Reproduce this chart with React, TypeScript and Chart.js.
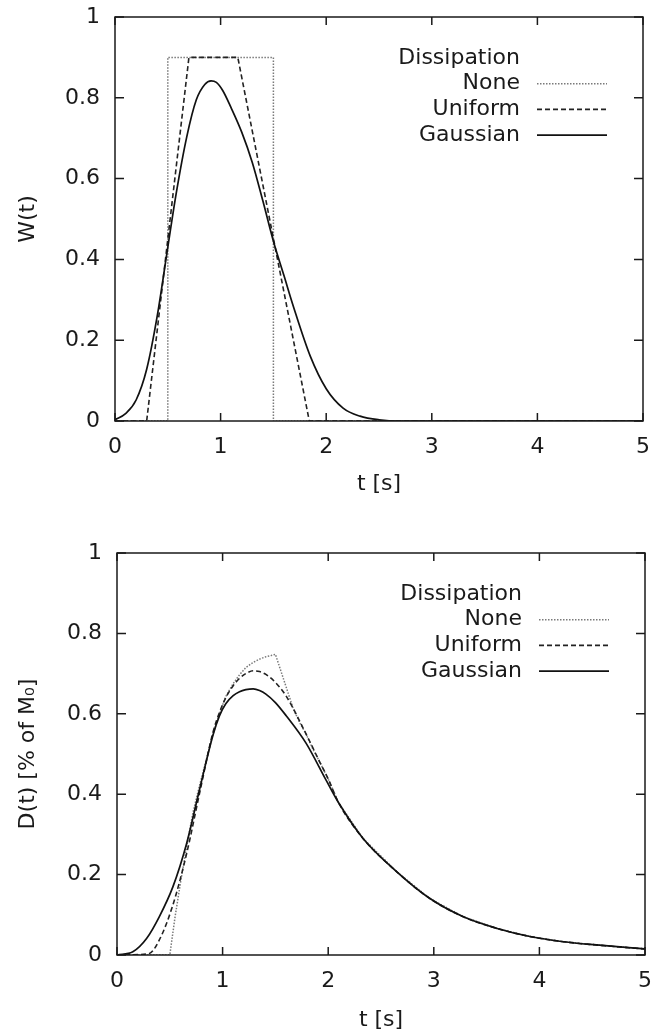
import React, { useEffect, useRef } from "react";
import { Chart, registerables } from "chart.js";

Chart.register(...registerables);

// ---------- shared axis / legend text ----------
const xTicks = [0, 1, 2, 3, 4, 5];
const yTicks = [0, 0.2, 0.4, 0.6, 0.8, 1];
const xTitle = "t [s]";
const topYTitle = "W(t)";
const bottomYTitle = "D(t) [% of M₀]";
const legendTitle = "Dissipation";
const seriesNames = ["None", "Uniform", "Gaussian"];

// ---------- top panel: W(t) ----------
const wNoneT = [0, 0.5, 0.5, 1.5, 1.5, 5];
const wNoneV = [0, 0, 0.9, 0.9, 0, 0];

const wUniformT = [0, 0.3, 0.7, 1.163, 1.84, 5];
const wUniformV = [0, 0, 0.9, 0.9, 0, 0];

const wGaussT = [0, 0.1, 0.2, 0.3, 0.4, 0.5, 0.58, 0.68, 0.77, 0.85, 0.91, 0.96, 1.02, 1.1, 1.2, 1.3, 1.4, 1.5, 1.6, 1.69, 1.85, 2.0, 2.16, 2.32, 2.5, 2.7, 3.0, 5.0];
const wGaussV = [0.003, 0.018, 0.052, 0.128, 0.26, 0.43, 0.564, 0.704, 0.795, 0.833, 0.842, 0.838, 0.818, 0.775, 0.715, 0.64, 0.545, 0.445, 0.36, 0.283, 0.16, 0.08, 0.032, 0.012, 0.003, 0, 0, 0];

// ---------- bottom panel: D(t) ----------
const dTailT = [2.1, 2.33, 2.65, 2.96, 3.28, 3.6, 3.91, 4.23, 4.54, 5.0];
const dTailV = [0.378, 0.29, 0.207, 0.141, 0.095, 0.066, 0.046, 0.033, 0.025, 0.015];

const dNoneT = [0, 0.5, 0.55, 0.6, 0.66, 0.72, 0.78, 0.85, 0.91, 0.97, 1.03, 1.1, 1.16, 1.22, 1.29, 1.35, 1.41, 1.46, 1.5, 1.55, 1.6, 1.67, 1.73, 1.79, 1.85, 1.92, 2.0];
const dNoneV = [0, 0, 0.095, 0.178, 0.27, 0.355, 0.42, 0.49, 0.55, 0.6, 0.643, 0.675, 0.697, 0.715, 0.728, 0.736, 0.742, 0.745, 0.748, 0.708, 0.668, 0.612, 0.578, 0.55, 0.515, 0.48, 0.438];

const dUniformT = [0, 0.3, 0.4, 0.53, 0.66, 0.78, 0.91, 0.97, 1.03, 1.1, 1.16, 1.22, 1.29, 1.35, 1.41, 1.5, 1.6, 1.79, 1.92, 2.0];
const dUniformV = [0, 0.003, 0.037, 0.125, 0.253, 0.4, 0.555, 0.603, 0.64, 0.67, 0.688, 0.7, 0.707, 0.705, 0.698, 0.678, 0.645, 0.55, 0.48, 0.438];

const dGaussT = [0, 0.15, 0.28, 0.4, 0.53, 0.66, 0.78, 0.91, 0.97, 1.03, 1.1, 1.16, 1.22, 1.29, 1.35, 1.41, 1.5, 1.6, 1.79, 1.98];
const dGaussV = [0, 0.008, 0.041, 0.095, 0.17, 0.278, 0.41, 0.548, 0.595, 0.625, 0.645, 0.655, 0.66, 0.662, 0.658, 0.649, 0.628, 0.596, 0.527, 0.435];

// ---------- styling ----------
const FONT = '"DejaVu Sans", "Liberation Sans", sans-serif';
const FONT_SIZE = 22;
const INK = "#1a1a1a";

const styles: Record<string, any> = {
  None: { borderColor: "#7a7a7a", borderWidth: 1.5, borderDash: [1.5, 1.5] },
  Uniform: { borderColor: "#222222", borderWidth: 1.6, borderDash: [5, 3] },
  Gaussian: { borderColor: "#111111", borderWidth: 1.7, borderDash: [] },
};

const toXY = (ts: number[], vs: number[]) => ts.map((t, i) => ({ x: t, y: vs[i] }));

const frameLegendPlugin = {
  id: "frameLegend",
  afterDatasetsDraw(chart: any) {
    const { ctx, chartArea: a, scales } = chart;
    ctx.save();
    ctx.strokeStyle = INK;
    ctx.lineWidth = 1.5;
    ctx.setLineDash([]);
    ctx.strokeRect(a.left, a.top, a.right - a.left, a.bottom - a.top);
    ctx.beginPath();
    for (const v of xTicks) {
      const px = scales.x.getPixelForValue(v);
      ctx.moveTo(px, a.bottom);
      ctx.lineTo(px, a.bottom - 8);
      ctx.moveTo(px, a.top);
      ctx.lineTo(px, a.top + 8);
    }
    for (const v of yTicks) {
      const py = scales.y.getPixelForValue(v);
      ctx.moveTo(a.left, py);
      ctx.lineTo(a.left + 9, py);
      ctx.moveTo(a.right, py);
      ctx.lineTo(a.right - 9, py);
    }
    ctx.stroke();

    // legend (gnuplot style: right-aligned text, sample to the right)
    ctx.font = `${FONT_SIZE}px ${FONT}`;
    ctx.fillStyle = INK;
    ctx.textAlign = "right";
    ctx.textBaseline = "middle";
    const tx = a.right - 123;
    const rowY = (i: number) => a.top + 41 + i * 25.7;
    ctx.fillText(legendTitle, tx, rowY(0));
    seriesNames.forEach((name, i) => {
      const y = rowY(i + 1);
      ctx.fillStyle = INK;
      ctx.fillText(name, tx, y);
      const st = styles[name];
      ctx.beginPath();
      ctx.strokeStyle = st.borderColor;
      ctx.lineWidth = st.borderWidth;
      ctx.setLineDash(st.borderDash);
      ctx.moveTo(a.right - 106, y);
      ctx.lineTo(a.right - 36, y);
      ctx.stroke();
    });
    ctx.restore();
  },
};

type PanelSpec = {
  yTitle: string;
  series: { name: string; data: { x: number; y: number }[]; smooth: boolean }[];
  padTop: number;
  padRight: number;
  yWidth: number;
  xHeight: number;
  xTitlePadBottom: number;
};

const zeroPadding = (s: any) => {
  s.paddingTop = 0;
  s.paddingBottom = 0;
  s.paddingLeft = 0;
  s.paddingRight = 0;
};

function makeConfig(p: PanelSpec): any {
  const tickFont = { family: FONT, size: FONT_SIZE };
  return {
    type: "scatter",
    data: {
      datasets: p.series.map((s) => ({
        label: s.name,
        data: s.data,
        showLine: true,
        pointRadius: 0,
        pointHoverRadius: 0,
        fill: false,
        cubicInterpolationMode: s.smooth ? "monotone" : "default",
        tension: 0,
        ...styles[s.name],
      })),
    },
    options: {
      responsive: false,
      animation: false,
      events: [],
      layout: { padding: { left: 0, right: p.padRight, top: p.padTop, bottom: 0 } },
      plugins: { legend: { display: false }, tooltip: { enabled: false } },
      scales: {
        x: {
          type: "linear",
          min: 0,
          max: 5,
          afterBuildTicks: (s: any) => {
            s.ticks = xTicks.map((v) => ({ value: v }));
          },
          afterFit: (s: any) => {
            s.height = p.xHeight;
            zeroPadding(s);
          },
          ticks: {
            font: tickFont,
            color: INK,
            padding: 13,
            maxRotation: 0,
            callback: (v: number) => String(v),
          },
          grid: { display: false, drawTicks: false },
          border: { display: false },
          title: {
            display: true,
            text: xTitle,
            font: tickFont,
            color: INK,
            padding: { top: 0, bottom: p.xTitlePadBottom },
          },
        },
        y: {
          type: "linear",
          min: 0,
          max: 1,
          afterBuildTicks: (s: any) => {
            s.ticks = yTicks.map((v) => ({ value: v }));
          },
          afterFit: (s: any) => {
            s.width = p.yWidth;
            zeroPadding(s);
          },
          ticks: {
            font: tickFont,
            color: INK,
            padding: 15,
            callback: (v: number) => String(Math.round(v * 10) / 10),
          },
          grid: { display: false, drawTicks: false },
          border: { display: false },
          title: {
            display: true,
            text: p.yTitle,
            font: tickFont,
            color: INK,
            padding: { top: 15, bottom: 0 },
          },
        },
      },
    },
    plugins: [frameLegendPlugin],
  };
}

const topPanel: PanelSpec = {
  yTitle: topYTitle,
  series: [
    { name: "Gaussian", data: toXY(wGaussT, wGaussV), smooth: true },
    { name: "Uniform", data: toXY(wUniformT, wUniformV), smooth: false },
    { name: "None", data: toXY(wNoneT, wNoneV), smooth: false },
  ],
  padTop: 17,
  padRight: 9,
  yWidth: 115,
  xHeight: 99,
  xTitlePadBottom: 23,
};

const bottomPanel: PanelSpec = {
  yTitle: bottomYTitle,
  series: [
    { name: "Gaussian", data: toXY(dGaussT.concat(dTailT), dGaussV.concat(dTailV)), smooth: true },
    { name: "Uniform", data: toXY(dUniformT.concat(dTailT), dUniformV.concat(dTailV)), smooth: true },
    { name: "None", data: toXY(dNoneT.concat(dTailT), dNoneV.concat(dTailV)), smooth: false },
  ],
  padTop: 33,
  padRight: 7,
  yWidth: 117,
  xHeight: 81,
  xTitlePadBottom: 3,
};

function Panel({ spec, top, height }: { spec: PanelSpec; top: number; height: number }) {
  const ref = useRef<HTMLCanvasElement | null>(null);
  useEffect(() => {
    if (!ref.current) return;
    const chart = new Chart(ref.current, makeConfig(spec));
    return () => chart.destroy();
  }, [spec]);
  return (
    <canvas
      ref={ref}
      width={652}
      height={height}
      style={{ position: "absolute", left: 0, top, width: 652, height, display: "block" }}
    />
  );
}

export default function App() {
  return (
    <div style={{ position: "absolute", left: 0, top: 0, width: 652, height: 1036, background: "#ffffff" }}>
      <Panel spec={topPanel} top={0} height={520} />
      <Panel spec={bottomPanel} top={520} height={516} />
    </div>
  );
}
